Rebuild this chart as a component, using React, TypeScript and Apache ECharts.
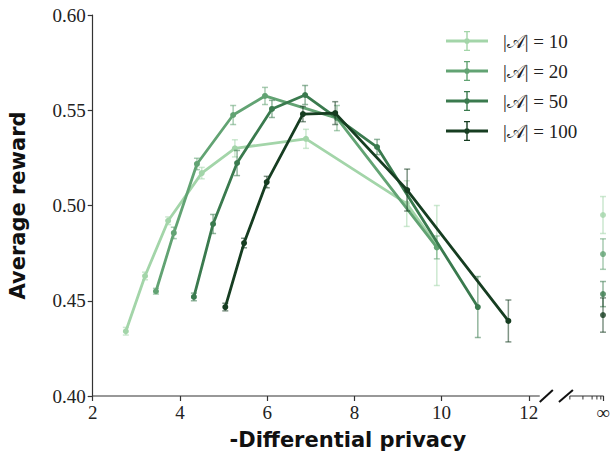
import React, { useEffect, useRef } from "react";
import * as echarts from "echarts";

// ---- data ----
const NAMES = ["|𝒜| = 10", "|𝒜| = 20", "|𝒜| = 50", "|𝒜| = 100"];
const COLORS = ["#a3d5a9", "#62a373", "#3a7a4e", "#163d21"];

const X10 = [2.76, 3.2, 3.73, 4.5, 5.26, 6.89, 9.2, 9.89];
const Y10 = [0.434, 0.463, 0.492, 0.517, 0.53, 0.535, 0.501, 0.479];
const E10 = [0.002, 0.002, 0.002, 0.003, 0.0045, 0.005, 0.012, 0.021];

const X20 = [3.45, 3.86, 4.39, 5.22, 5.95, 7.6, 9.89];
const Y20 = [0.455, 0.4856, 0.5218, 0.5475, 0.5575, 0.5459, 0.478];
const E20 = [0.0015, 0.003, 0.003, 0.005, 0.0045, 0.0066, 0.006];

const X50 = [4.32, 4.76, 5.31, 6.11, 6.87, 8.52, 10.83];
const Y50 = [0.452, 0.4903, 0.5223, 0.5507, 0.558, 0.5307, 0.4467];
const E50 = [0.002, 0.005, 0.0066, 0.0045, 0.005, 0.004, 0.016];

const X100 = [5.04, 5.47, 5.99, 6.82, 7.56, 9.21, 11.53];
const Y100 = [0.4467, 0.4803, 0.5123, 0.548, 0.5485, 0.5081, 0.4394];
const E100 = [0.002, 0.0025, 0.003, 0.004, 0.006, 0.011, 0.011];

// values at epsilon = infinity
const INF_Y = [0.495, 0.4745, 0.4535, 0.4425];
const INF_E = [0.0097, 0.008, 0.0066, 0.009];

const X_TICKS = [2, 4, 6, 8, 10, 12];
const INF_POS = 13.7; // axis position used for "∞"
const INF_MINOR = [12.94, 13.24, 13.45, 13.56, 13.65];
const Y_TICKS_MIN = 0.4;
const Y_TICKS_MAX = 0.6;

const SERIES_X = [X10, X20, X50, X100];
const SERIES_Y = [Y10, Y20, Y50, Y100];
const SERIES_E = [E10, E20, E50, E100];

const SERIF = "'Liberation Serif', 'DejaVu Serif', serif";
const SANS = "'DejaVu Sans', 'Liberation Sans', sans-serif";

function hexA(hex: string, a: number) {
  const n = parseInt(hex.slice(1), 16);
  return `rgba(${(n >> 16) & 255},${(n >> 8) & 255},${n & 255},${a})`;
}

function errRender(color: string) {
  return (params: any, api: any) => {
    const x = api.value(0);
    const lo = api.coord([x, api.value(1)]);
    const hi = api.coord([x, api.value(2)]);
    const stroke = hexA(color, 0.55);
    const cw = 3;
    return {
      type: "group",
      children: [
        { type: "line", shape: { x1: lo[0], y1: lo[1], x2: hi[0], y2: hi[1] }, style: { stroke, lineWidth: 1.5 } },
        { type: "line", shape: { x1: lo[0] - cw, y1: lo[1], x2: lo[0] + cw, y2: lo[1] }, style: { stroke, lineWidth: 1.5 } },
        { type: "line", shape: { x1: hi[0] - cw, y1: hi[1], x2: hi[0] + cw, y2: hi[1] }, style: { stroke, lineWidth: 1.5 } },
      ],
    };
  };
}

const LEGEND_ICON =
  "path://M0,8.6 L42,8.6 L42,11.4 L0,11.4 Z M20.3,0 L21.7,0 L21.7,20 L20.3,20 Z M18,0 L24,0 L24,1.3 L18,1.3 Z M18,18.7 L24,18.7 L24,20 L18,20 Z M18.2,10 A2.8,2.8 0 1 1 23.8,10 A2.8,2.8 0 1 1 18.2,10 Z";

export default function App() {
  const ref = useRef<HTMLDivElement>(null);

  useEffect(() => {
    document.body.style.margin = "0";
    const chart = echarts.init(ref.current!, null, { renderer: "svg" });

    const series: any[] = [];
    NAMES.forEach((name, i) => {
      const xs = SERIES_X[i], ys = SERIES_Y[i], es = SERIES_E[i];
      series.push({
        type: "line",
        name,
        data: xs.map((x, k) => [x, ys[k]]),
        symbol: "circle",
        symbolSize: 6,
        showSymbol: true,
        lineStyle: { color: COLORS[i], width: 2.8 },
        itemStyle: { color: COLORS[i], borderWidth: 0 },
        z: 2 + i,
      });
      series.push({
        type: "custom",
        name: name + " err",
        data: xs.map((x, k) => [x, ys[k] - es[k], ys[k] + es[k]]),
        renderItem: errRender(COLORS[i]),
        encode: { x: 0, y: [1, 2] },
        z: 2 + i,
        silent: true,
      });
      series.push({
        type: "custom",
        name: name + " inf err",
        data: [[INF_POS, INF_Y[i] - INF_E[i], INF_Y[i] + INF_E[i]]],
        renderItem: errRender(COLORS[i]),
        encode: { x: 0, y: [1, 2] },
        z: 2 + i,
        silent: true,
      });
      series.push({
        type: "scatter",
        name: name + " inf",
        data: [[INF_POS, INF_Y[i]]],
        symbol: "circle",
        symbolSize: 6,
        itemStyle: { color: COLORS[i] },
        z: 2 + i,
      });
    });

    const option: any = {
      animation: false,
      backgroundColor: "#ffffff",
      grid: { left: 92.7, right: 13, top: 15, bottom: 58, outerBoundsMode: "none" },
      legend: {
        data: NAMES,
        orient: "vertical",
        left: 446,
        top: 31,
        padding: 0,
        itemWidth: 42,
        itemHeight: 20,
        itemGap: 10,
        icon: LEGEND_ICON,
        itemStyle: { borderWidth: 0 },
        textStyle: { fontFamily: SERIF, fontSize: 19, color: "#222", padding: [0, 0, 0, 10] },
        selectedMode: false,
      },
      xAxis: {
        type: "value",
        min: 2,
        max: INF_POS,
        interval: 2,
        name: "-Differential privacy",
        nameLocation: "middle",
        nameGap: 33,
        nameTextStyle: { fontFamily: SANS, fontWeight: "bold", fontSize: 21, color: "#111" },
        axisLine: { show: false },
        axisTick: {
          show: true,
          length: 5,
          customValues: [...X_TICKS, INF_POS],
          lineStyle: { color: "#333", width: 1.2 },
        },
        axisLabel: {
          customValues: [...X_TICKS, INF_POS],
          formatter: (v: number) => (Math.abs(v - INF_POS) < 1e-6 ? "∞" : String(v)),
          fontFamily: SERIF,
          fontSize: 19,
          color: "#222",
          margin: 7,
        },
        splitLine: { show: false },
      },
      yAxis: {
        type: "value",
        min: Y_TICKS_MIN,
        max: Y_TICKS_MAX,
        interval: 0.05,
        name: "Average reward",
        nameLocation: "middle",
        nameGap: 64,
        nameTextStyle: { fontFamily: SANS, fontWeight: "bold", fontSize: 21, color: "#111" },
        axisLine: { show: true, lineStyle: { color: "#333", width: 1.2 } },
        axisTick: { show: true, length: 5, lineStyle: { color: "#333", width: 1.2 } },
        axisLabel: {
          formatter: (v: number) => v.toFixed(2),
          fontFamily: SERIF,
          fontSize: 19,
          color: "#222",
          margin: 7,
        },
        splitLine: { show: false },
      },
      series,
    };

    chart.setOption(option);

    // broken x-axis line drawn from axis coordinates
    const P = (x: number) => chart.convertToPixel({ xAxisIndex: 0, yAxisIndex: 0 }, [x, Y_TICKS_MIN]) as number[];
    const a = P(2), b = P(12.25), s1a = P(12.25), s1b = P(12.55), s2a = P(12.69), s2b = P(13.01), c = P(12.94), d = P(INF_POS);
    const axisStroke = { stroke: "#333", lineWidth: 1.2 };
    const graphic: any[] = [
      { type: "line", shape: { x1: a[0], y1: a[1], x2: b[0], y2: b[1] }, style: axisStroke, silent: true },
      { type: "line", shape: { x1: c[0], y1: c[1], x2: d[0] + 0.6, y2: d[1] }, style: axisStroke, silent: true },
      { type: "line", shape: { x1: s1a[0], y1: s1a[1] + 6, x2: s1b[0], y2: s1b[1] - 6 }, style: { stroke: "#111", lineWidth: 2 }, silent: true },
      { type: "line", shape: { x1: s2a[0], y1: s2a[1] + 6, x2: s2b[0], y2: s2b[1] - 6 }, style: { stroke: "#111", lineWidth: 2 }, silent: true },
    ];
    INF_MINOR.forEach((m) => {
      const p = P(m);
      graphic.push({ type: "line", shape: { x1: p[0], y1: p[1], x2: p[0], y2: p[1] + 3.5 }, style: { stroke: "#333", lineWidth: 1 }, silent: true });
    });
    chart.setOption({ graphic });

    return () => chart.dispose();
  }, []);

  return <div ref={ref} style={{ width: 616, height: 454 }} />;
}
